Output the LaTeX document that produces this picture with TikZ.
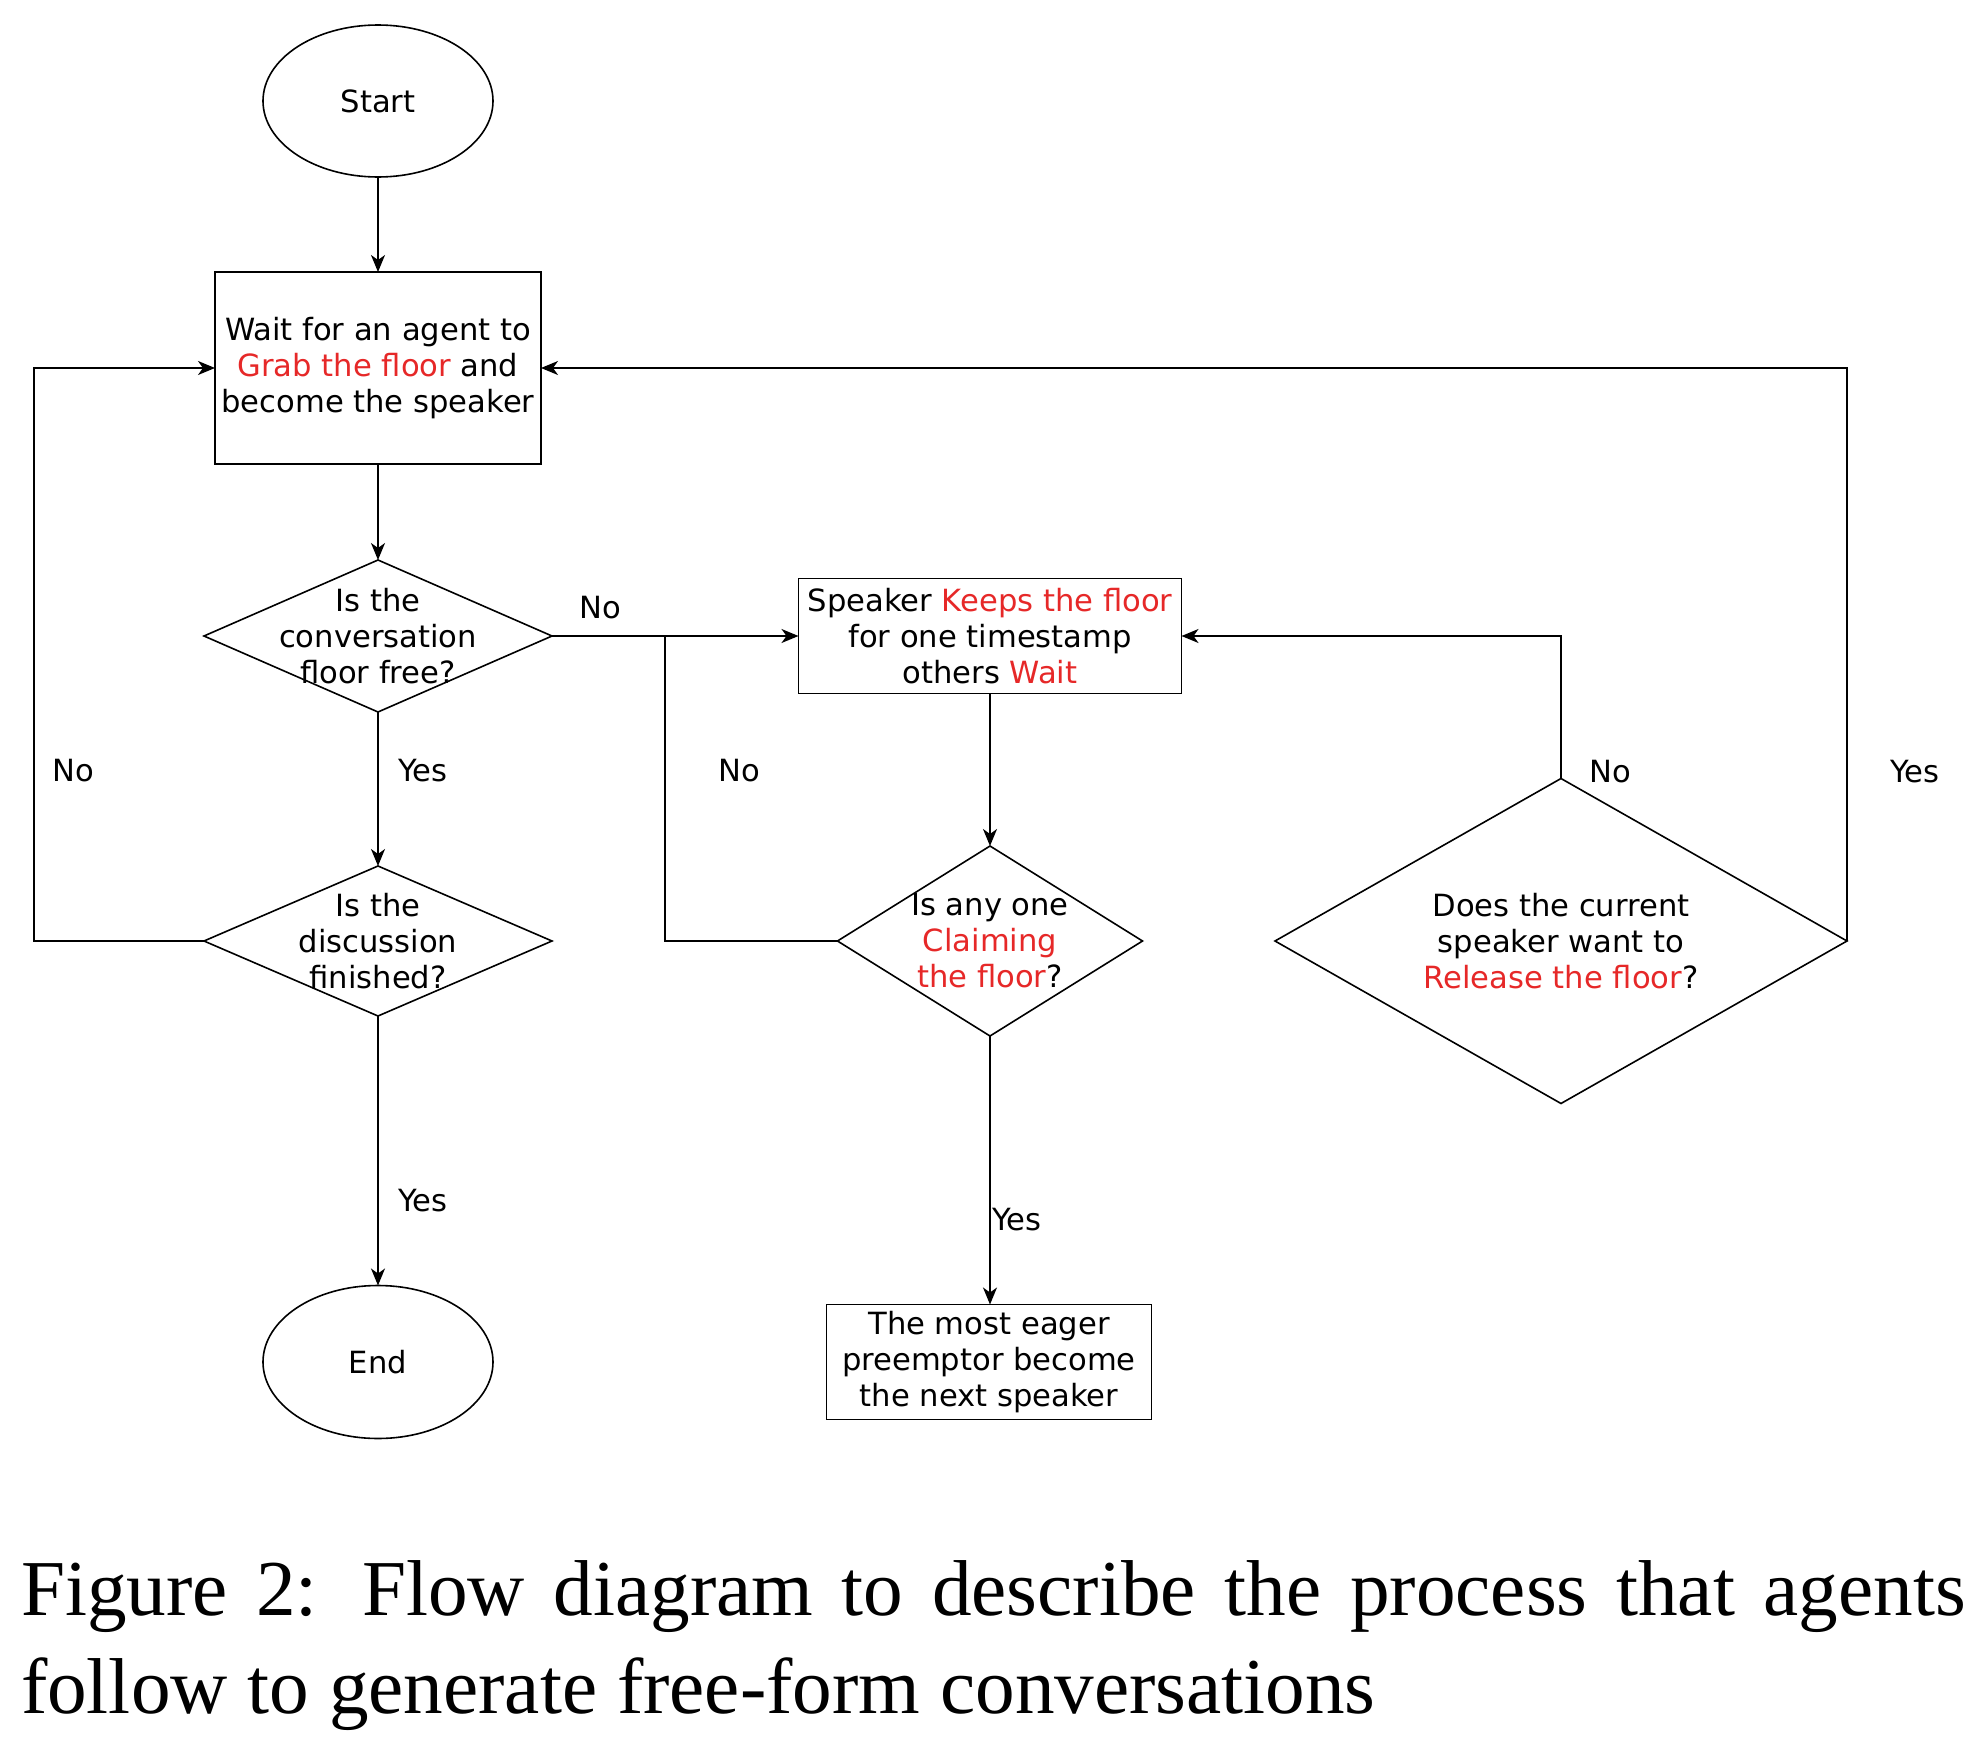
\documentclass[tikz,border=0pt]{standalone}
\usepackage{fontspec}
\setmainfont{Liberation Serif}
\newfontfamily\djv{DejaVu Sans}
\usetikzlibrary{shapes.geometric,arrows.meta}
\definecolor{fred}{RGB}{230,40,40}
\begin{document}
\begin{tikzpicture}[x=0.5pt,y=-0.5pt,line width=0.8pt,
  every node/.style={outer sep=0pt},
  txt/.style={font=\djv\fontsize{15.3pt}{18pt}\selectfont, align=center, inner sep=0pt},
  boxn/.style={draw, rectangle, inner sep=0pt},
  dia/.style={draw, diamond, inner sep=0pt},
  ell/.style={draw, ellipse, inner sep=0pt},
  arr/.style={-{Stealth[length=8.5pt,width=7pt,inset=2.5pt]}},
  capf/.style={anchor=base west, inner sep=0pt, font=\fontsize{39.6pt}{49pt}\selectfont}]
\useasboundingbox (0,0) rectangle (1978,1740);

% shapes
\node[ell, txt, minimum width=115pt, minimum height=76pt] (start) at (378,101) {Start};
\node[boxn, txt, minimum width=163pt, minimum height=96pt] (b1) at (378,368)
  {Wait for an agent to\\\textcolor{fred}{Grab the floor} and\\become the speaker};
\node[dia, minimum width=174pt, minimum height=76pt] (d1) at (378,636) {};
\node[txt] (d1t) at (d1) {Is the\\conversation\\floor free?};
\node[boxn, txt, minimum width=191.5pt, minimum height=57.5pt] (b2) at (990,636)
  {Speaker \textcolor{fred}{Keeps the floor}\\for one timestamp\\others \textcolor{fred}{Wait}};
\node[dia, minimum width=174pt, minimum height=75pt] (d2) at (378,941) {};
\node[txt] (d2t) at (d2) {Is the\\discussion\\finished?};
\node[dia, minimum width=152.5pt, minimum height=95pt] (d3) at (990,941) {};
\node[txt] (d3t) at (d3) {Is any one\\\textcolor{fred}{Claiming}\\\textcolor{fred}{the floor}?};
\node[dia, minimum width=286pt, minimum height=162.5pt] (d4) at (1561,941) {};
\node[txt] (d4t) at (d4) {Does the current\\speaker want to\\\textcolor{fred}{Release the floor}?};
\node[ell, txt, minimum width=115pt, minimum height=76.5pt] (end) at (378,1362) {End};
\node[boxn, txt, minimum width=162.5pt, minimum height=57.5pt] (b3) at (989,1362)
  {The most eager\\preemptor become\\the next speaker};

% helper coordinates
\coordinate (lt) at (34,368);
\coordinate (jn) at (665,636);
\coordinate (rt) at (1847,368);

% connectors
\draw[arr] (start) -- (b1);
\draw[arr] (b1) -- (d1);
\draw[arr] (d1.east) -- (b2.west);
\draw[arr] (d1) -- (d2);
\draw[arr] (d2.west) -| (lt) -- (b1.west);
\draw[arr] (d2) -- (end);
\draw[arr] (b2) -- (d3);
\draw (d3.west) -| (jn);
\draw[arr] (d3.south) -- (d3.south |- b3.north);
\draw[arr] (d4.north) |- (b2.east);
\draw[arr] (d4.east) -| (rt) -- (b1.east);

% labels
\node[txt] (l1) at (600,608) {No};
\node[txt] (l2) at (423,771) {Yes};
\node[txt] (l3) at (73,771) {No};
\node[txt] (l4) at (739,771) {No};
\node[txt] (l5) at (1610,772) {No};
\node[txt] (l6) at (1915,772) {Yes};
\node[txt] (l7) at (423,1201) {Yes};
\node[txt] (l8) at (1017,1220) {Yes};

% caption
\node[capf] (cap1) at (21,1615) {\makebox[972.5pt][s]{Figure 2: Flow diagram to describe the process that agents}};
\node[capf] (cap2) at (21,1713) {follow to generate free-form conversations};
\end{tikzpicture}
\end{document}
